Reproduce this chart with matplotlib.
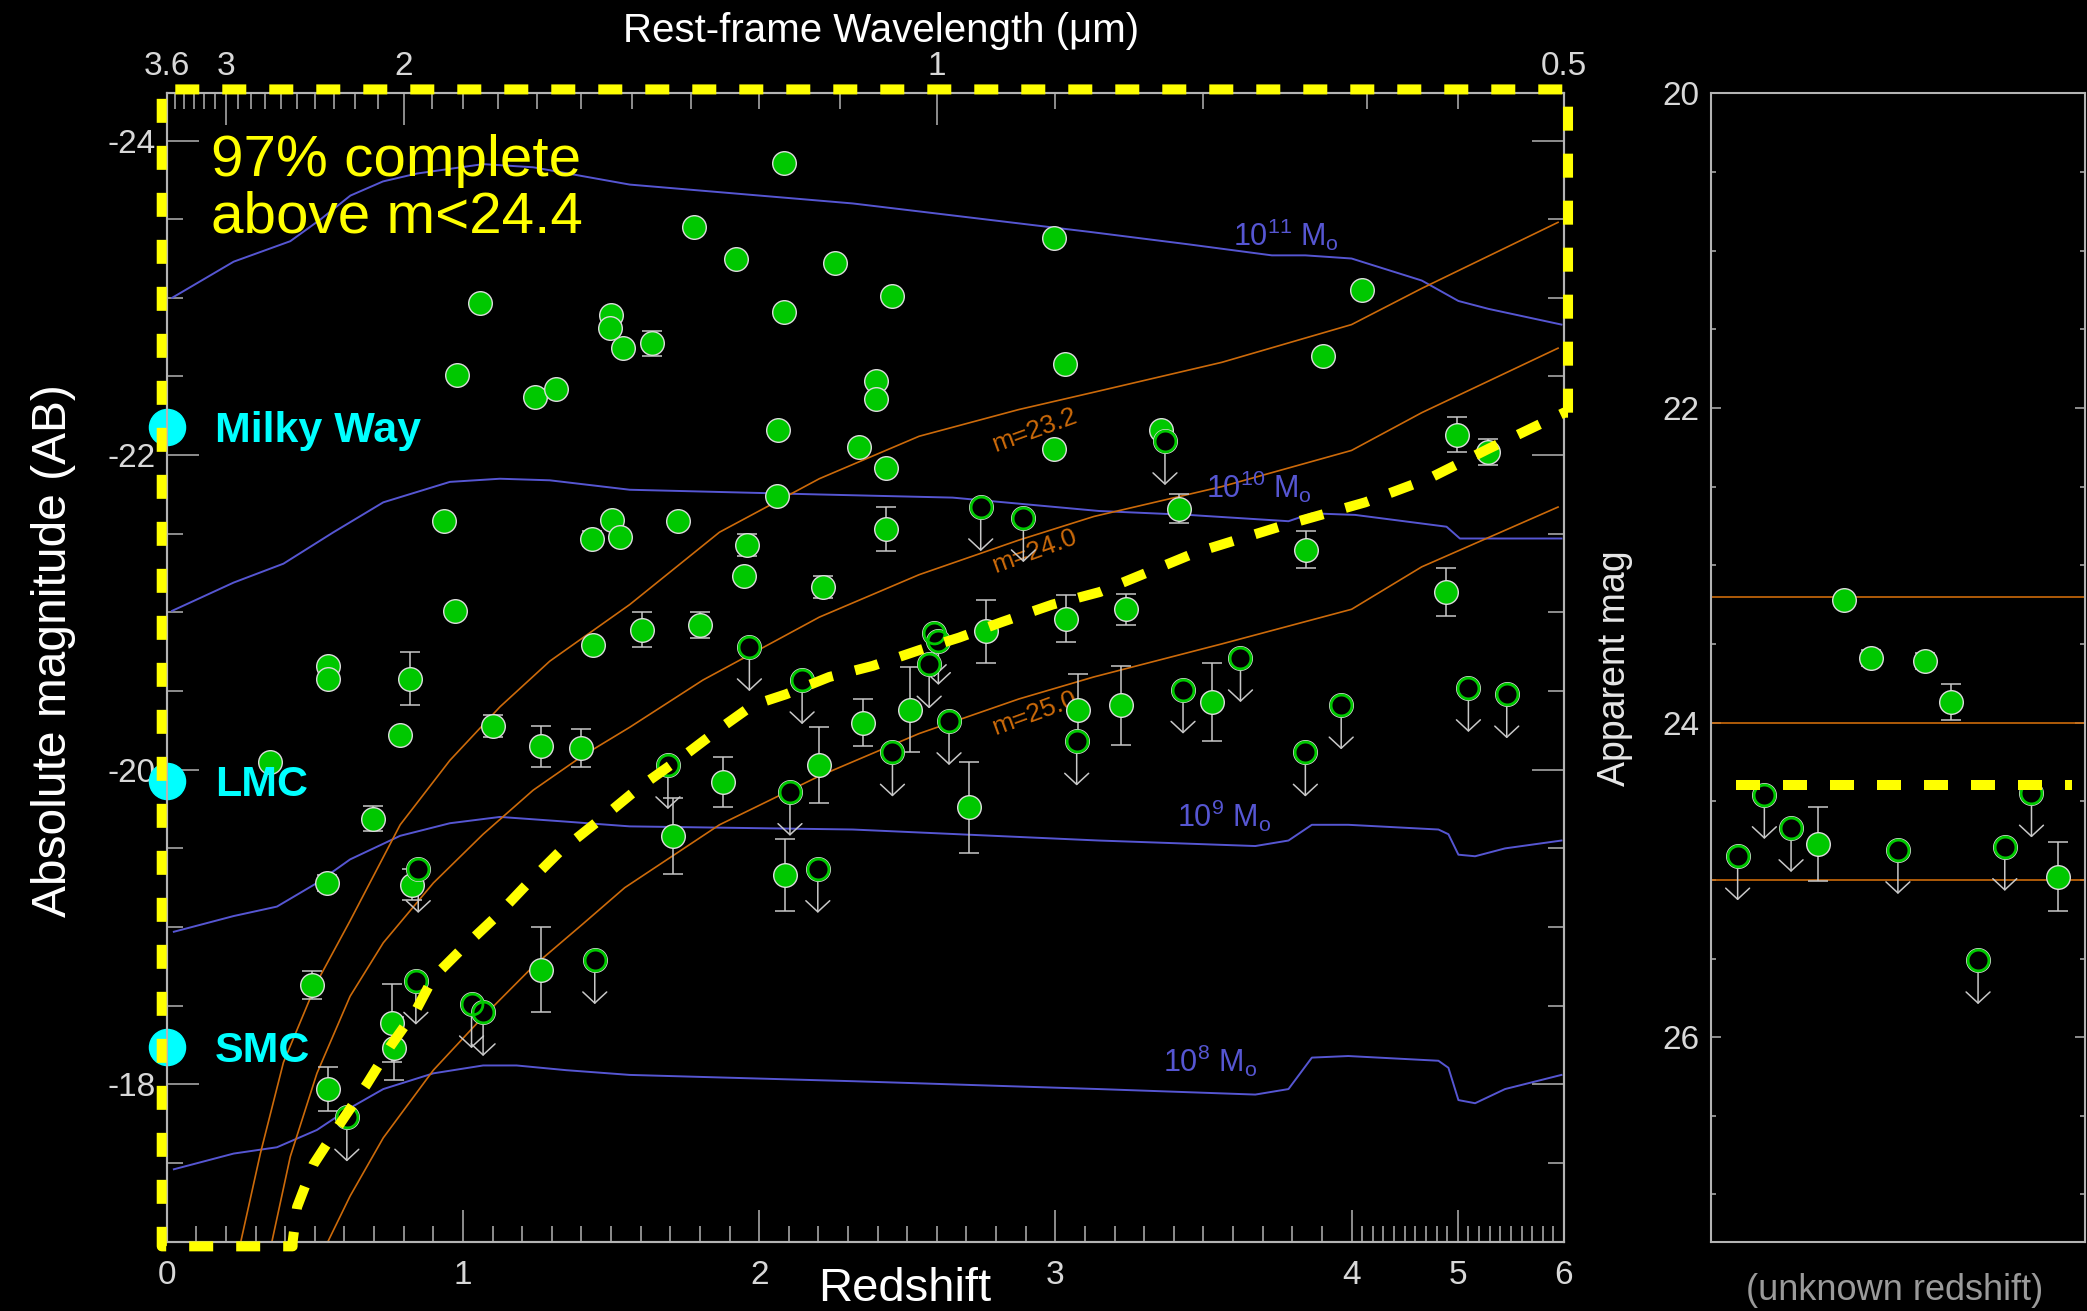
import numpy as np
import matplotlib
matplotlib.use('Agg')
import matplotlib.pyplot as plt

plt.rcParams['font.family'] = ['Liberation Sans', 'DejaVu Sans']
plt.rcParams['mathtext.default'] = 'regular'
plt.rcParams['axes.unicode_minus'] = False

# ---------------- data ----------------
# stellar-mass tracks (redshift, absolute magnitude)
m11_z = [0.018, 0.226, 0.417, 0.520, 0.620, 0.730, 0.844, 1.068, 1.237, 1.563, 2.316, 3.113, 3.450, 3.731, 3.844, 4.0, 4.661, 5.006, 5.288, 5.976]
m11_M = [-23.00, -23.23, -23.36, -23.50, -23.65, -23.74, -23.79, -23.85, -23.83, -23.72, -23.60, -23.42, -23.34, -23.27, -23.27, -23.25, -23.11, -22.98, -22.93, -22.83]
m10_z = [0.018, 0.226, 0.394, 0.563, 0.731, 0.956, 1.125, 1.293, 1.563, 2.203, 2.653, 3.147, 3.45, 3.787, 3.866, 4.034, 4.894, 5.02, 5.976]
m10_M = [-21.01, -21.19, -21.31, -21.51, -21.70, -21.83, -21.85, -21.84, -21.78, -21.75, -21.73, -21.645, -21.62, -21.58, -21.63, -21.62, -21.545, -21.47, -21.47]
m9_z = [0.024, 0.226, 0.372, 0.507, 0.619, 0.788, 0.956, 1.125, 1.349, 1.563, 2.316, 3.147, 3.675, 3.787, 3.866, 3.989, 4.818, 4.912, 5.006, 5.163, 5.445, 5.976]
m9_M = [-18.97, -19.07, -19.13, -19.28, -19.43, -19.58, -19.66, -19.70, -19.67, -19.64, -19.62, -19.55, -19.515, -19.55, -19.65, -19.65, -19.62, -19.59, -19.46, -19.45, -19.50, -19.55]
m8_z = [0.024, 0.226, 0.372, 0.507, 0.619, 0.731, 0.9, 1.068, 1.181, 1.349, 1.563, 2.316, 3.147, 3.675, 3.787, 3.866, 3.989, 4.818, 4.912, 5.006, 5.163, 5.445, 5.976]
m8_M = [-17.46, -17.56, -17.60, -17.71, -17.85, -17.97, -18.07, -18.12, -18.12, -18.09, -18.06, -18.02, -17.97, -17.935, -17.97, -18.17, -18.18, -18.15, -18.105, -17.90, -17.88, -17.97, -18.06]
mass_labels = [r'10$^{11}$ M$_{o}$', r'10$^{10}$ M$_{o}$', r'10$^{9}$ M$_{o}$', r'10$^{8}$ M$_{o}$']
mass_label_z = [3.777, 3.688, 3.571, 3.521]
mass_label_M = [-23.40, -21.80, -19.71, -18.15]

# constant apparent magnitude curves
o232_z = [0.250, 0.316, 0.394, 0.507, 0.619, 0.788, 0.956, 1.125, 1.293, 1.563, 1.866, 2.203, 2.54, 2.877, 3.13, 3.562, 4.0, 4.661, 5.944]
o232_M = [-17.0, -17.56, -18.14, -18.65, -19.04, -19.65, -20.06, -20.40, -20.69, -21.05, -21.51, -21.85, -22.12, -22.29, -22.40, -22.59, -22.83, -23.06, -23.48]
o240_z = [0.355, 0.417, 0.507, 0.619, 0.731, 0.9, 1.068, 1.237, 1.405, 1.563, 1.81, 2.203, 2.54, 2.877, 3.13, 3.562, 4.0, 4.661, 5.944]
o240_M = [-17.0, -17.54, -18.07, -18.56, -18.90, -19.28, -19.59, -19.87, -20.09, -20.27, -20.57, -20.97, -21.24, -21.46, -21.61, -21.80, -22.03, -22.27, -22.68]
o250_z = [0.544, 0.619, 0.731, 0.9, 1.068, 1.237, 1.405, 1.546, 1.866, 2.203, 2.54, 2.877, 3.13, 3.562, 4.0, 4.661, 5.944]
o250_M = [-17.0, -17.29, -17.66, -18.09, -18.43, -18.75, -19.02, -19.25, -19.65, -19.96, -20.23, -20.45, -20.59, -20.80, -21.02, -21.29, -21.67]
mag_levels = [23.2, 24.0, 25.0]
mag_labels = ['m=23.2', 'm=24.0', 'm=25.0']
mag_label_z = [2.93, 2.93, 2.93]
mag_label_M = [-22.16, -21.39, -20.36]

# completeness limit m=24.4
yel_z = [0.425, 0.44, 0.495, 0.585, 0.675, 0.754, 0.844, 0.9, 1.001, 1.114, 1.215, 1.327, 1.394, 1.507, 1.597, 1.754, 1.866, 1.978, 2.091, 2.237, 2.383, 2.54, 2.675, 2.821, 2.99, 3.15, 3.473, 3.765, 4.129, 4.724, 5.288, 6.0]
yel_M = [-17.0, -17.22, -17.49, -17.75, -18.00, -18.24, -18.48, -18.68, -18.87, -19.07, -19.27, -19.48, -19.58, -19.75, -19.89, -20.10, -20.26, -20.41, -20.48, -20.59, -20.66, -20.76, -20.84, -20.94, -21.05, -21.13, -21.38, -21.55, -21.70, -21.85, -22.04, -22.27]
complete_mag = 24.4

# detected galaxies (filled), with error bars (0 = none)
det_z = [1.057, 1.501, 1.495, 1.540, 0.979, 1.243, 1.313, 0.936, 1.503, 1.434, 1.529, 0.973, 1.439, 0.546, 0.546,
         0.821, 0.788, 1.102, 1.263, 1.398, 0.347, 0.695, 0.541, 0.827, 0.492, 0.762, 0.767, 1.265, 0.546,
         2.083, 1.780, 1.921, 2.257, 2.450, 2.085, 1.638, 2.995, 3.032, 2.396, 2.396, 2.063, 2.336, 2.428,
         2.995, 2.059, 1.726, 2.428, 1.958, 1.948, 2.217, 1.606, 1.799, 2.765, 3.035,
         4.097, 3.905, 3.355, 3.419, 4.99, 5.288, 3.846, 3.24, 4.886,
         1.879, 1.709, 2.352, 2.203, 2.088, 2.51, 2.709, 3.075, 3.22, 3.529]
det_M = [-22.97, -22.89, -22.81, -22.68, -22.51, -22.37, -22.42, -21.58, -21.59, -21.47, -21.48, -21.01, -20.79, -20.66, -20.58,
         -20.58, -20.22, -20.28, -20.15, -20.14, -20.05, -19.69, -19.28, -19.27, -18.63, -18.39, -18.23, -18.73, -17.97,
         -23.86, -23.45, -23.25, -23.22, -23.01, -22.91, -22.71, -23.38, -22.58, -22.47, -22.36, -22.16, -22.05, -21.92,
         -22.04, -21.74, -21.58, -21.53, -21.43, -21.23, -21.16, -20.89, -20.92, -20.88, -20.96,
         -23.05, -22.63, -22.16, -21.66, -22.13, -22.02, -21.40, -21.02, -21.13,
         -19.92, -19.58, -20.30, -20.03, -19.33, -20.38, -19.76, -20.38, -20.41, -20.43]
det_err = [0, 0, 0, 0, 0, 0, 0, 0, 0, 0.05, 0, 0, 0, 0, 0,
           0.17, 0, 0.07, 0.13, 0.12, 0, 0.08, 0.05, 0.10, 0.09, 0.25, 0.20, 0.27, 0.14,
           0, 0, 0, 0, 0, 0, 0.08, 0, 0, 0, 0, 0, 0, 0,
           0, 0, 0, 0.14, 0.07, 0, 0.07, 0.11, 0.08, 0.20, 0.15,
           0, 0, 0, 0.09, 0.11, 0.08, 0.12, 0.10, 0.15,
           0.16, 0.24, 0.15, 0.24, 0.23, 0.27, 0.29, 0.23, 0.25, 0.25]

# upper limits (open circles with arrows)
lim_z = [0.849, 0.841, 1.029, 1.068, 1.445, 0.608, 2.748, 2.892, 1.967, 2.591, 2.605, 2.574, 3.370,
         3.625, 1.692, 2.145, 2.104, 2.198, 2.45, 2.641, 3.072, 3.431, 3.844, 3.965, 5.1, 5.461]
lim_M = [-19.37, -18.66, -18.51, -18.46, -18.79, -17.79, -21.67, -21.60, -20.78, -20.87, -20.82, -20.67, -22.09,
         -20.71, -20.03, -20.57, -19.86, -19.37, -20.11, -20.31, -20.18, -20.51, -20.11, -20.41, -20.52, -20.48]

# reference galaxies
ref_names = ['Milky Way', 'LMC', 'SMC']
ref_M = [-22.18, -19.93, -18.24]

# unknown-redshift objects (apparent mag)
unk_idx = list(range(1, 14))
unk_m = [24.85, 24.46, 24.67, 24.77, 23.22, 23.59, 24.81, 23.61, 23.87, 25.51, 24.79, 24.45, 24.98]
unk_det = [False, False, False, True, True, True, False, True, True, False, False, False, True]
unk_err = [0, 0, 0, 0.235, 0, 0.05, 0, 0.05, 0.115, 0, 0, 0, 0.22]

# axis ticks
z_major = [0, 1, 2, 3, 4, 5, 6]
lam_major = [3.6, 3, 2, 1]
lam_labels = ['3.6', '3', '2', '1']
lam_minor = [3.5, 3.4, 3.3, 3.2, 3.1, 2.9, 2.8, 2.7, 2.6, 2.5, 2.4, 2.3, 2.2, 2.1,
             1.9, 1.8, 1.7, 1.6, 1.5, 1.4, 1.3, 1.2, 1.1, 0.9, 0.8, 0.7, 0.6]

# ---------------- styles ----------------
BLUE = '#5656d2'
ORANGE = '#cc6a0a'
GREEN = '#00c800'
GREY = '#c8c8c8'
SPINE = '#b4b4b4'
TICKLAB = '#d8d8d8'
YELLOW = '#ffff00'
CYAN = '#00ffff'
ARROW_LEN = 0.28

# redshift axis: linear to z=4, compressed beyond
K = 0.3586


def fwd(z):
    z = np.asarray(z, dtype=float)
    return np.where(z <= 4, z, 4 + (z - 4) * K)


def inv(u):
    u = np.asarray(u, dtype=float)
    return np.where(u <= 4, u, 4 + (u - 4) / K)


fig = plt.figure(figsize=(20.87, 13.11), dpi=100, facecolor='black')

# ---------------- main panel ----------------
ax = fig.add_axes([0.0799, 0.0529, 0.6695, 0.8759], facecolor='black')
ax.set_xscale('function', functions=(fwd, inv))
ax.set_xlim(0, 6)
ax.set_ylim(-17, -24.3)

for zz, MM in [(m11_z, m11_M), (m10_z, m10_M), (m9_z, m9_M), (m8_z, m8_M)]:
    ax.plot(zz, MM, color=BLUE, lw=1.4, zorder=2)
for zz, MM in [(o232_z, o232_M), (o240_z, o240_M), (o250_z, o250_M)]:
    ax.plot(zz, MM, color=ORANGE, lw=1.2, zorder=2)

for lab, zz, MM in zip(mass_labels, mass_label_z, mass_label_M):
    ax.text(zz, MM, lab, color=BLUE, fontsize=22, ha='center', va='center', zorder=2)
for lab, zz, MM in zip(mag_labels, mag_label_z, mag_label_M):
    ax.text(zz, MM, lab, color=ORANGE, fontsize=19, ha='center', va='center',
            rotation=20, rotation_mode='anchor', zorder=2)

det_z = np.array(det_z)
det_M = np.array(det_M)
det_err = np.array(det_err)
has_err = det_err > 0
ax.errorbar(det_z[has_err], det_M[has_err], yerr=det_err[has_err], fmt='none',
            ecolor=GREY, elinewidth=1.1, capsize=7.5, capthick=1.1, zorder=3)

for zz, MM in zip(lim_z, lim_M):
    ax.annotate('', xy=(zz, MM + ARROW_LEN), xytext=(zz, MM),
                arrowprops=dict(arrowstyle='->,head_length=0.4,head_width=0.43', color=GREY,
                                lw=1.1, shrinkA=0, shrinkB=0, mutation_scale=20), zorder=3)

ax.plot(det_z, det_M, 'o', ms=17, mfc=GREEN, mec='#dcdcdc', mew=1.0, zorder=4)
ax.plot(lim_z, lim_M, 'o', ms=17, mfc='black', mec='#dcdcdc', mew=1.0, zorder=4)
ax.plot(lim_z, lim_M, 'o', ms=15.0, mfc='none', mec=GREEN, mew=2.0, zorder=4)

ax.plot([0] * len(ref_M), ref_M, 'o', ms=26, color=CYAN, clip_on=False, zorder=6)
for name, MM in zip(ref_names, ref_M):
    ax.annotate(name, xy=(0, MM), xytext=(34.5, -11), textcoords='offset points',
                color=CYAN, fontsize=31, fontweight='bold', va='baseline', ha='left', zorder=6)

ax.text(0.032, 0.965, '97% complete\nabove m<24.4', transform=ax.transAxes, color=YELLOW,
        fontsize=42, ha='left', va='top', linespacing=1.08, zorder=7)

ax.set_xticks(z_major)
ax.set_xticks(np.arange(0, 6.001, 0.1), minor=True)
ax.set_xticklabels([str(v) for v in z_major])
ax.set_yticks([-24, -22, -20, -18])
ax.set_yticks(np.arange(-24, -16.99, 0.5), minor=True)
ax.tick_params(which='both', direction='in', top=False, right=True, bottom=True, left=True,
               color=SPINE, width=1.1, labelcolor=TICKLAB, labelsize=24)
ax.tick_params(which='major', length=23)
ax.tick_params(which='minor', length=11.5)
ax.tick_params(axis='x', pad=13)
ax.tick_params(axis='y', pad=8)
for sp in ax.spines.values():
    sp.set_color(SPINE)
    sp.set_linewidth(1.5)

# top wavelength axis
ax2 = ax.twiny()
ax2.set_xscale('function', functions=(fwd, inv))
ax2.set_xlim(0, 6)
lam_major_z = [3.6 / lam - 1 for lam in lam_major] + [6.0]
ax2.set_xticks(lam_major_z)
ax2.set_xticklabels(lam_labels + ['0.5'])
ax2.set_xticks([3.6 / lam - 1 for lam in lam_minor], minor=True)
ax2.tick_params(which='both', direction='in', top=True, bottom=False, labeltop=True,
                labelbottom=False, color=SPINE, width=1.1, labelcolor=TICKLAB, labelsize=24, pad=8)
ax2.tick_params(which='major', length=23)
ax2.tick_params(which='minor', length=11.5)
ax2.xaxis.get_major_ticks()[-1].tick2line.set_visible(False)
for sp in ax2.spines.values():
    sp.set_color(SPINE)
    sp.set_linewidth(1.5)

# yellow dashed outline of the complete region
x_left, x_right = -0.017, 6.038
y_top, y_bot = -24.325, -16.97
poly_z = [x_right, x_right, x_left, x_left, yel_z[0]] + yel_z + [x_right]
poly_M = [yel_M[-1], y_top, y_top, y_bot, y_bot] + yel_M + [yel_M[-1]]
ax2.plot(poly_z, poly_M, color=YELLOW, lw=7.2, dashes=(2.4, 2.3), clip_on=False,
         solid_capstyle='butt', dash_capstyle='butt', zorder=10)

# ---------------- unknown redshift panel ----------------
axr = fig.add_axes([0.8198, 0.0529, 0.1792, 0.8759], facecolor='black')
axr.set_xlim(0, 14)
axr.set_ylim(27.3, 20)
for lev in mag_levels:
    axr.axhline(lev, color=ORANGE, lw=1.2, zorder=2)
axr.axhline(complete_mag, xmin=0.067, xmax=0.965, color=YELLOW, lw=7.2, dashes=(2.4, 2.3), zorder=10)

unk_idx = np.array(unk_idx)
unk_m = np.array(unk_m)
unk_det = np.array(unk_det)
unk_err = np.array(unk_err)
e_mask = unk_err > 0
axr.errorbar(unk_idx[e_mask], unk_m[e_mask], yerr=unk_err[e_mask], fmt='none',
             ecolor=GREY, elinewidth=1.1, capsize=7.5, capthick=1.1, zorder=3)
for xx, mm in zip(unk_idx[~unk_det], unk_m[~unk_det]):
    axr.annotate('', xy=(xx, mm + ARROW_LEN), xytext=(xx, mm),
                 arrowprops=dict(arrowstyle='->,head_length=0.4,head_width=0.43', color=GREY,
                                 lw=1.1, shrinkA=0, shrinkB=0, mutation_scale=20), zorder=3)
axr.plot(unk_idx[unk_det], unk_m[unk_det], 'o', ms=17, mfc=GREEN, mec='#dcdcdc', mew=1.0, zorder=4)
axr.plot(unk_idx[~unk_det], unk_m[~unk_det], 'o', ms=17, mfc='black', mec='#dcdcdc', mew=1.0, zorder=4)
axr.plot(unk_idx[~unk_det], unk_m[~unk_det], 'o', ms=15.0, mfc='none', mec=GREEN, mew=2.0, zorder=4)

axr.set_xticks([])
axr.set_yticks([20, 22, 24, 26])
axr.set_yticks(np.arange(20, 27.31, 0.5), minor=True)
axr.tick_params(axis='y', which='both', direction='in', left=True, right=True, color=SPINE,
                width=1.1, labelcolor=TICKLAB, labelsize=24, pad=8)
axr.tick_params(axis='y', which='major', length=7)
axr.tick_params(axis='y', which='minor', length=3.5)
for sp in axr.spines.values():
    sp.set_color(SPINE)
    sp.set_linewidth(1.5)

# ---------------- axis titles ----------------
fig.text(0.4337, 0.0075, 'Redshift', color='white', fontsize=34, ha='center', va='baseline')
fig.text(0.4222, 0.9682, 'Rest-frame Wavelength (μm)', color='white', fontsize=29, ha='center', va='baseline')
fig.text(0.0254, 0.504, 'Absolute magnitude (AB)', color='white', fontsize=34.5, rotation=90,
         ha='center', va='center')
fig.text(0.7738, 0.490, 'Apparent mag', color='#e6e6e6', fontsize=27, rotation=90,
         ha='center', va='center')
fig.text(0.9076, 0.0085, '(unknown redshift)', color='#9a9a9a', fontsize=26, ha='center', va='baseline')

fig.savefig('out.png', dpi=100, facecolor='black')
plt.close(fig)
